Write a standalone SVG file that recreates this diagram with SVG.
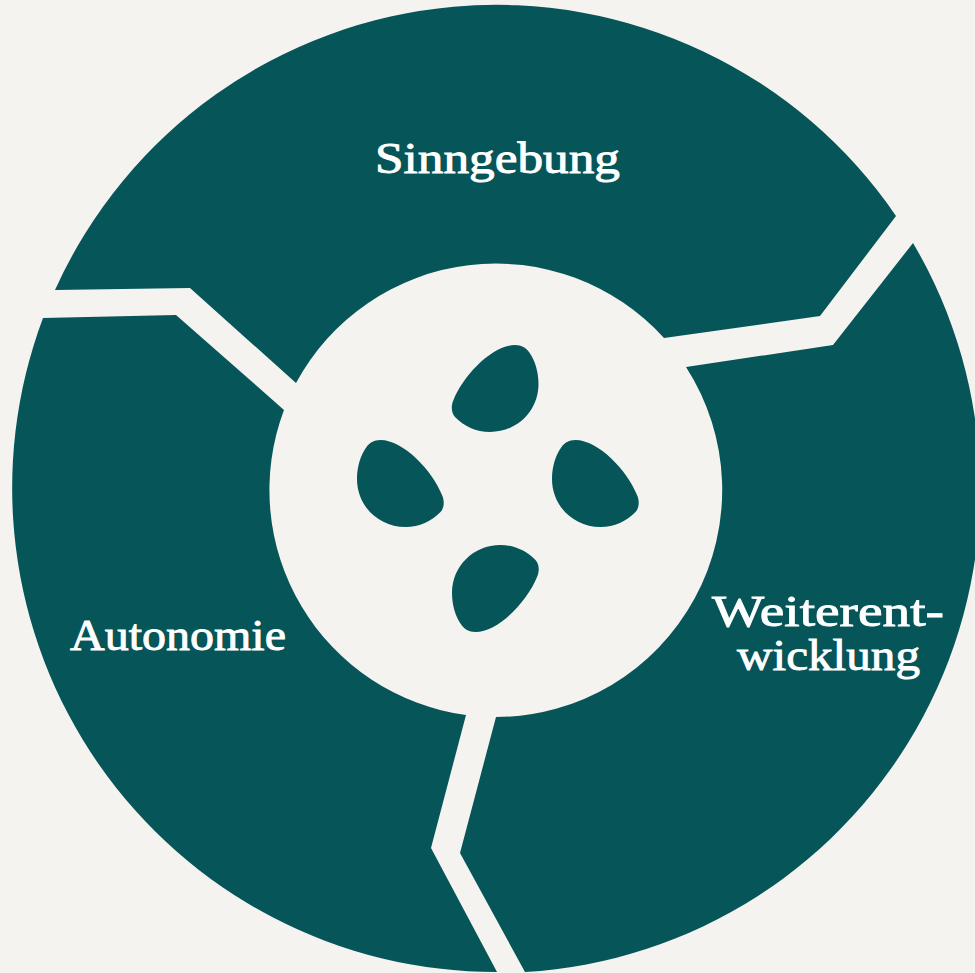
<svg xmlns="http://www.w3.org/2000/svg" width="975" height="973" viewBox="0 0 975 973">
<style>
.seg{fill:#055559}
.lbl{fill:#ffffff;stroke:#ffffff;stroke-width:0.9px;font-family:"Liberation Serif","Times New Roman",serif;font-size:44px;font-weight:400}
</style>
<defs>
<path id="seed" class="seg" d="M515 345C522 345 526 348 529 352C535 360 538.500 372 538.500 384C538.500 411 517 432 490 432C476 432 464 426 455 417C451 413 451 405 453.500 400C463 376 492 345 515 345Z"/>
</defs>
<rect width="975" height="973" fill="#f5f3f0"/>
<g id="sinngebung">
<path class="seg" d="M55 290L190 288L296 383A227 227 0 0 1 664 338L820 316L896 216A484 484 0 0 0 55 290Z"/>
<text class="lbl" x="375" y="173" textLength="245" lengthAdjust="spacingAndGlyphs">Sinngebung</text>
</g>
<g id="weiterentwicklung">
<path class="seg" d="M913 243L833 345L686 367A227 227 0 0 1 496 717L460 853L525 972A484 484 0 0 0 913 243Z"/>
<text class="lbl"><tspan x="712" y="626" textLength="232" lengthAdjust="spacingAndGlyphs">Weiterent-</tspan><tspan x="737" y="670" textLength="183" lengthAdjust="spacingAndGlyphs">wicklung</tspan></text>
</g>
<g id="autonomie">
<path class="seg" d="M497 972L431 848L466 715A227 227 0 0 1 284 410L176 315L43 318A484 484 0 0 0 497 972Z"/>
<text class="lbl" x="70" y="650" textLength="216" lengthAdjust="spacingAndGlyphs">Autonomie</text>
</g>
<g id="center">
<use href="#seed"/>
<use href="#seed" transform="matrix(-1 0 0 -1 990.500 977)"/>
<use href="#seed" transform="matrix(-1 0 0 1 1090.500 95)"/>
<use href="#seed" transform="matrix(-1 0 0 1 895.500 95)"/>
</g>
</svg>
